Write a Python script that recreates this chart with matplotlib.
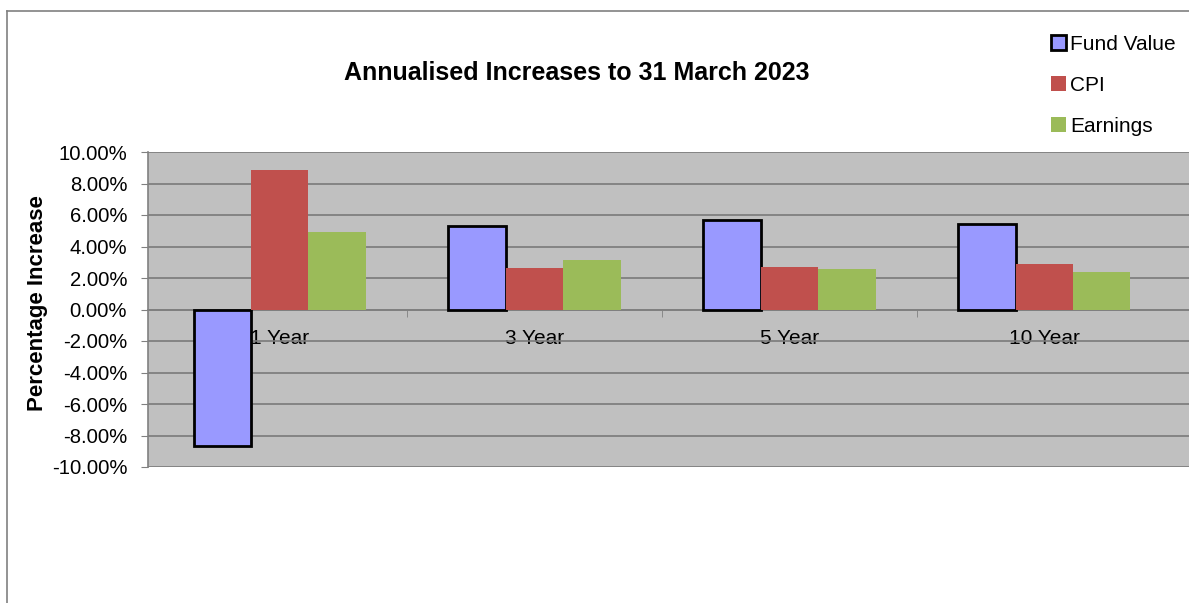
import numpy as np
import matplotlib
matplotlib.use('Agg')
import matplotlib.pyplot as plt
from matplotlib.lines import Line2D
from matplotlib.ticker import FixedLocator, FuncFormatter

plt.rcParams['font.family'] = ['Liberation Sans', 'DejaVu Sans']

# data (percent)
periods = ['1 Year', '3 Year', '5 Year', '10 Year']
fund_value = [-8.66, 5.33, 5.67, 5.42]
cpi = [8.84, 2.62, 2.67, 2.90]
earnings = [4.91, 3.13, 2.60, 2.39]
series_names = ['Fund Value', 'CPI', 'Earnings']

fig = plt.figure(figsize=(11.89, 6.03), dpi=100)
W, H = 1189.0, 603.0

# outer chart border (left and top only, as in the cropped screenshot)
fig.add_artist(Line2D([7 / W, 7 / W], [0, 1 - 11 / H], color='#808080', lw=1.2))
fig.add_artist(Line2D([7 / W, 1], [1 - 11 / H, 1 - 11 / H], color='#808080', lw=1.2))

ax = fig.add_axes([148 / W, 136 / H, (W - 148) / W, 315 / H])
ax.set_facecolor('#C0C0C0')

x = np.arange(len(periods))
bw = 0.225
b1 = ax.bar(x - bw, fund_value, bw, color='#9999FF', edgecolor='black', linewidth=2, zorder=3, label=series_names[0])
b2 = ax.bar(x, cpi, bw, color='#C0504D', zorder=3, label=series_names[1])
b3 = ax.bar(x + bw, earnings, bw, color='#9BBB59', zorder=3, label=series_names[2])

ax.set_xlim(-0.516, 3.567)
ax.set_ylim(-10, 10)
ax.set_yticks(np.arange(-10, 10.1, 2))
ax.yaxis.set_major_formatter(FuncFormatter(lambda v, p: '{:.2f}%'.format(v).replace('\u2212', '-')))
ax.grid(axis='y', color='#7a7a7a', linewidth=1.2, zorder=1)
ax.set_axisbelow(True)

for s in ['top', 'right']:
    ax.spines[s].set_visible(False)
ax.spines['left'].set_color('#808080')
ax.spines['left'].set_linewidth(1.2)
ax.spines['bottom'].set_position(('data', 0))
ax.spines['bottom'].set_color('#808080')
ax.spines['bottom'].set_linewidth(1.2)

ax.set_xticks(x)
ax.set_xticklabels(periods, fontsize=15)
ax.xaxis.set_minor_locator(FixedLocator(x[:-1] + 0.5))
ax.tick_params(axis='x', which='major', length=0, pad=14)
ax.tick_params(axis='x', which='minor', length=5, color='#808080', direction='out')
ax.tick_params(axis='y', length=5, color='#808080', pad=10, labelsize=14.6)

ax.set_ylabel('Percentage Increase', fontsize=16, fontweight='bold')
ax.yaxis.set_label_coords(-100 / (W - 148), 0.52)

fig.text(577 / W, 1 - 73 / H, 'Annualised Increases to 31 March 2023', fontsize=18,
         fontweight='bold', ha='center', va='center')

fig.legend(handles=[b1, b2, b3], loc='upper left', bbox_to_anchor=(1051 / W, 1 - 35 / H),
           frameon=False, fontsize=15, handlelength=0.7, handleheight=0.7,
           handletextpad=0.2, labelspacing=1.05, borderpad=0, borderaxespad=0)

fig.savefig('out.png', dpi=100)
